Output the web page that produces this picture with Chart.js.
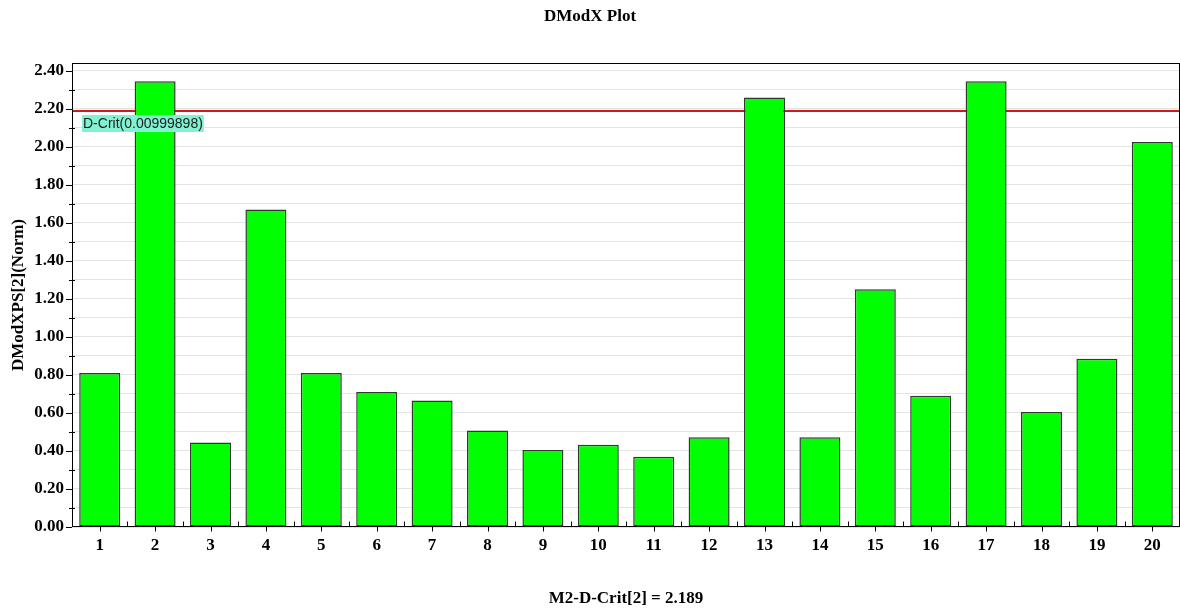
<!DOCTYPE html>
<html>
<head>
<meta charset="utf-8">
<title>DModX Plot</title>
<script src="https://cdn.jsdelivr.net/npm/chart.js@4.4.1/dist/chart.umd.min.js"></script>
<style>
  html, body { margin: 0; padding: 0; background: #ffffff; }
  #wrap { width: 1180px; height: 612px; position: relative; }
</style>
</head>
<body>
<div id="wrap"><canvas id="chart"></canvas></div>
<script>
// Observation numbers along the x axis
const observations = ['1', '2', '3', '4', '5', '6', '7', '8', '9', '10',
                      '11', '12', '13', '14', '15', '16', '17', '18', '19', '20'];

// Normalised DModX distance for each observation
const dmodxValues = [0.81, 2.344, 0.444, 1.67, 0.81, 0.71, 0.665, 0.507, 0.405, 0.432,
                     0.37, 0.472, 2.258, 0.472, 1.25, 0.69, 2.344, 0.605, 0.885, 2.025];

// Critical distance and its significance level
const dCritValue = 2.189;
const dCritLevel = '0.00999898';

// Value axis range and tick spacing
const yMin = 0;
const yMax = 2.44;
const yStep = 0.1;

const chartTitle = 'DModX Plot';
const yAxisTitle = 'DModXPS[2](Norm)';
const xAxisTitle = 'M2-D-Crit[2] = ' + dCritValue;

const serif = '"Liberation Serif", "Times New Roman", Times, serif';
const sans = '"Liberation Sans", Arial, Helvetica, sans-serif';

// Critical line under the bars, its label, frame and tick marks on top
const decorPlugin = {
  id: 'dmodxDecor',
  beforeDatasetsDraw(chart) {
    const { ctx, chartArea: a, scales: { y } } = chart;
    const py = Math.round(y.getPixelForValue(dCritValue));
    ctx.save();
    ctx.strokeStyle = '#d01818';
    ctx.lineWidth = 2;
    ctx.beginPath();
    ctx.moveTo(a.left, py);
    ctx.lineTo(a.right, py);
    ctx.stroke();
    ctx.restore();
  },
  afterDatasetsDraw(chart) {
    const { ctx, chartArea: a, scales: { x, y } } = chart;
    ctx.save();

    // D-Crit label just below the critical line
    const py = Math.round(y.getPixelForValue(dCritValue));
    const text = 'D-Crit(' + dCritLevel + ')';
    ctx.font = '14px ' + sans;
    const w = ctx.measureText(text).width;
    const bx = a.left + 10, by = py + 4, bh = 17;
    ctx.fillStyle = '#82f2d2';
    ctx.fillRect(bx, by, w + 2, bh);
    ctx.fillStyle = '#1c1c1c';
    ctx.textBaseline = 'middle';
    ctx.textAlign = 'left';
    ctx.fillText(text, bx + 1, by + bh / 2 + 0.5);

    // Plot frame
    ctx.strokeStyle = '#000000';
    ctx.lineWidth = 1;
    ctx.strokeRect(a.left + 0.5, a.top + 0.5, a.right - a.left - 1, a.bottom - a.top - 1);

    // Value axis ticks: long at labelled values, short in between
    ctx.lineWidth = 1;
    y.ticks.forEach(t => {
      const ty = Math.round(y.getPixelForValue(t.value)) + 0.5;
      const major = Math.round(t.value * 10) % 2 === 0;
      ctx.beginPath();
      if (major) {
        ctx.moveTo(a.left - 6, ty);
        ctx.lineTo(a.left, ty);
      } else {
        ctx.moveTo(a.left - 3, ty);
        ctx.lineTo(a.left + 3, ty);
      }
      ctx.stroke();
    });

    // Category ticks: down at each observation, up at each boundary
    const half = (x.getPixelForValue(1) - x.getPixelForValue(0)) / 2;
    const yb = a.bottom - 0.5;
    observations.forEach((_, i) => {
      const cx = Math.round(x.getPixelForValue(i)) + 0.5;
      ctx.beginPath();
      ctx.moveTo(cx, yb);
      ctx.lineTo(cx, yb + 5);
      ctx.stroke();
      if (i < observations.length - 1) {
        const bxp = Math.round(x.getPixelForValue(i) + half) + 0.5;
        ctx.beginPath();
        ctx.moveTo(bxp, yb);
        ctx.lineTo(bxp, yb - 5);
        ctx.stroke();
      }
    });
    ctx.restore();
  }
};

new Chart(document.getElementById('chart'), {
  type: 'bar',
  data: {
    labels: observations,
    datasets: [{
      label: yAxisTitle,
      data: dmodxValues,
      backgroundColor: '#00ff00',
      borderColor: '#2e3a2e',
      borderWidth: 1.5,
      borderSkipped: false,
      categoryPercentage: 1,
      barPercentage: 0.74
    }]
  },
  options: {
    responsive: true,
    maintainAspectRatio: false,
    animation: false,
    events: [],
    layout: { padding: { left: 0, right: 0, top: 0, bottom: 0 } },
    plugins: {
      legend: { display: false },
      tooltip: { enabled: false },
      title: {
        display: true,
        text: chartTitle,
        color: '#000000',
        font: { family: serif, size: 17, weight: 'bold', lineHeight: 1.2 },
        padding: { top: 6, bottom: 36.6 }
      }
    },
    scales: {
      x: {
        type: 'category',
        offset: true,
        grid: { display: false, drawTicks: false },
        border: { display: false },
        ticks: {
          color: '#000000',
          font: { family: serif, size: 17, weight: 'bold' },
          padding: 8,
          maxRotation: 0,
          autoSkip: false
        },
        title: {
          display: true,
          text: xAxisTitle,
          color: '#000000',
          font: { family: serif, size: 17, weight: 'bold', lineHeight: 1.2 },
          padding: { top: 0, bottom: 3 }
        },
        afterFit(scale) { scale.height = 85; }
      },
      y: {
        type: 'linear',
        min: yMin,
        max: yMax,
        grid: { color: '#e4e4e4', lineWidth: 1, drawTicks: false },
        border: { display: false },
        ticks: {
          stepSize: yStep,
          includeBounds: false,
          autoSkip: false,
          color: '#000000',
          font: { family: serif, size: 17, weight: 'bold' },
          padding: 8,
          callback: v => (Math.round(v * 10) % 2 === 0 ? v.toFixed(2) : '')
        },
        title: {
          display: true,
          text: yAxisTitle,
          color: '#000000',
          font: { family: serif, size: 17, weight: 'bold', lineHeight: 1.2 },
          padding: { top: 8, bottom: 0 }
        },
        afterFit(scale) { scale.width = 72; }
      }
    }
  },
  plugins: [decorPlugin]
});
</script>
</body>
</html>
